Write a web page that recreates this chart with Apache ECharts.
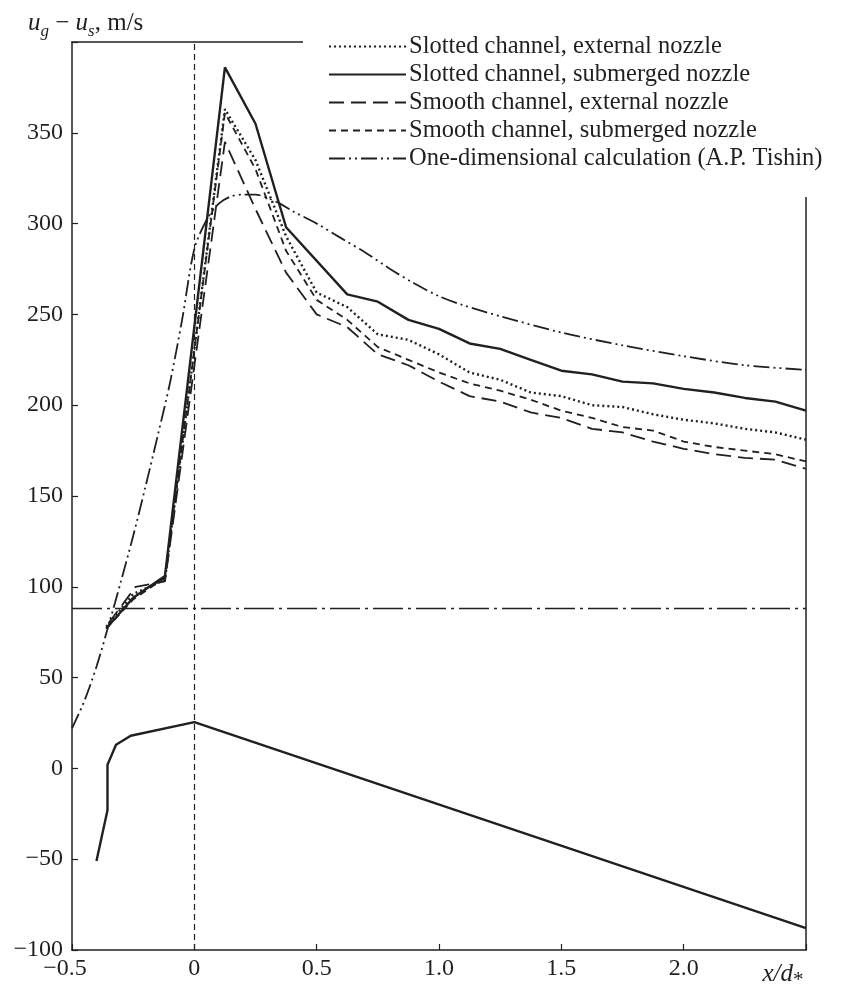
<!DOCTYPE html>
<html>
<head>
<meta charset="utf-8">
<script src="https://cdn.jsdelivr.net/npm/echarts@6/dist/echarts.min.js"></script>
<style>html,body{margin:0;padding:0;background:#fff}#c{width:861px;height:991px}</style>
</head>
<body>
<div id="c"></div>
<script>
// ---- data ----
const xTickValues = [-0.5, 0, 0.5, 1.0, 1.5, 2.0, 2.5];
const yTickValues = [-100, -50, 0, 50, 100, 150, 200, 250, 300, 350];

const seriesNames = [
  'Slotted channel, external nozzle',
  'Slotted channel, submerged nozzle',
  'Smooth channel, external nozzle',
  'Smooth channel, submerged nozzle',
  'One-dimensional calculation (A.P. Tishin)'
];

const slottedExtX = [-0.36,-0.25,-0.12,0.125,0.25,0.375,0.5,0.625,0.75,0.875,1.0,1.125,1.25,1.375,1.5,1.625,1.75,1.875,2.0,2.125,2.25,2.375,2.5];
const slottedExtY = [78,96,104,363,335,293,262,254,239,236,228,218,214,207,205,200,199,195,192,190,187,185,181];

const slottedSubX = [-0.36,-0.25,-0.12,0.125,0.25,0.375,0.625,0.75,0.875,1.0,1.125,1.25,1.375,1.5,1.625,1.75,1.875,2.0,2.125,2.25,2.375,2.5];
const slottedSubY = [77,94,106,386,355,298,261,257,247,242,234,231,225,219,217,213,212,209,207,204,202,197];

const smoothExtX = [-0.35,-0.24,-0.12,0.125,0.25,0.375,0.5,0.625,0.75,0.875,1.0,1.125,1.25,1.375,1.5,1.625,1.75,1.875,2.0,2.125,2.25,2.375,2.5];
const smoothExtY = [80,100,103,345,308,273,250,243,228,222,213,205,202,196,193,187,185,180,176,173,171,170,165];

const smoothSubX = [-0.36,-0.25,-0.12,0.125,0.25,0.375,0.5,0.625,0.75,0.875,1.0,1.125,1.25,1.375,1.5,1.625,1.75,1.875,2.0,2.125,2.25,2.375,2.5];
const smoothSubY = [77,93,105,361,330,285,258,247,232,225,218,212,208,203,197,193,188,186,180,177,175,173,169];

const oneDimX = [-0.5,-0.45,-0.4,-0.35,-0.3,-0.25,-0.2,-0.15,-0.1,-0.05,0,0.05,0.1,0.15,0.2,0.25,0.3,0.35,0.4,0.5,0.6,0.7,0.8,0.9,1.0,1.1,1.25,1.5,1.75,2.0,2.25,2.5];
const oneDimY = [22,37,56,79,103,128,155,183,212,247,286,302,311,315,316,316,314,311,307,300,292,284,275,267,260,255,249,240,233,227,222,219.5];

const lowerX = [-0.4,-0.355,-0.355,-0.32,-0.26,0,2.5];
const lowerY = [-51,-23,2,13,18,25.5,-88];

const horizontalRefY = 88;
const verticalRefX = 0;

// ---- chart ----
const pairs = (xs, ys) => xs.map((x, i) => [x, ys[i]]);
const INK = '#231f20';
const SERIF = 'Liberation Serif';
const FS = 24;
const minus = v => String(v).replace('-', '\u2212');

const chart = echarts.init(document.getElementById('c'), null, {renderer: 'canvas'});

const baseLine = (name, data, type, width, extra) => Object.assign({
  name, type: 'line', data, symbol: 'none', smooth: false, z: 3,
  lineStyle: {color: INK, width, type, cap: 'butt'},
  itemStyle: {color: INK}
}, extra || {});

chart.setOption({
  animation: false,
  backgroundColor: '#fff',
  title: {
    text: '{i|u}{sub|g}{n| \u2212 }{i|u}{sub|s}{n|, m/s}',
    left: 23, top: 2,
    textStyle: {
      fontWeight: 'normal',
      rich: {
        i: {fontFamily: SERIF, fontStyle: 'italic', fontWeight: 'normal', fontSize: 25, color: INK, lineHeight: 30},
        n: {fontFamily: SERIF, fontWeight: 'normal', fontSize: 25, color: INK, lineHeight: 30},
        sub: {fontFamily: SERIF, fontStyle: 'italic', fontWeight: 'normal', fontSize: 17, color: INK, lineHeight: 33, verticalAlign: 'bottom'}
      }
    }
  },
  legend: {
    data: seriesNames,
    orient: 'vertical',
    left: 303, top: 19,
    padding: [15, 40, 26, 25],
    backgroundColor: '#fff',
    itemWidth: 77, itemHeight: 22, itemGap: 3,
    itemStyle: {opacity: 0},
    textStyle: {fontFamily: SERIF, fontSize: FS + 0.5, lineHeight: 25, color: INK, padding: [0, 0, 0, -2]},
    z: 10
  },
  grid: {left: 72, right: 55, top: 42, bottom: 40.5, containLabel: false},
  xAxis: [{
    type: 'value', min: -0.5, max: 2.5, interval: 0.5,
    axisLine: {show: true, onZero: false, lineStyle: {color: INK, width: 1.5}},
    axisTick: {show: true, inside: true, length: 6, lineStyle: {color: INK, width: 1.2}},
    splitLine: {show: false},
    axisLabel: {
      margin: 7,
      fontFamily: SERIF, fontSize: FS, color: INK,
      formatter: v => {
        if (Math.abs(v - 2.5) < 1e-9) return '{xl|x/d}{xs|*}';
        if (v === 0) return '0';
        const s = minus(Number.isInteger(v) ? v.toFixed(1) : String(v));
        return v < 0 ? '{neg|' + s + '}' : s;
      },
      rich: {
        neg: {fontFamily: SERIF, fontSize: FS, color: INK, padding: [0, 14, 0, 0]},
        xl: {fontFamily: SERIF, fontStyle: 'italic', fontSize: FS + 1, color: INK, lineHeight: 26},
        xs: {fontFamily: SERIF, fontSize: 21, color: INK, lineHeight: 34, verticalAlign: 'bottom', padding: [0, 46, 0, 0]}
      }
    }
  }, {
    type: 'value', position: 'top', min: -0.5, max: 2.5,
    axisLine: {show: true, onZero: false, lineStyle: {color: INK, width: 1.5}},
    axisTick: {show: false}, axisLabel: {show: false}, splitLine: {show: false}
  }],
  yAxis: [{
    type: 'value', min: -100, max: 400, interval: 50,
    axisLine: {show: true, onZero: false, lineStyle: {color: INK, width: 1.5}},
    axisTick: {show: true, inside: true, length: 6, lineStyle: {color: INK, width: 1.2}},
    splitLine: {show: false},
    axisLabel: {
      margin: 9, fontFamily: SERIF, fontSize: FS, color: INK,
      formatter: v => (yTickValues.indexOf(v) >= 0 ? minus(v) : '')
    }
  }, {
    type: 'value', position: 'right', min: -100, max: 400,
    axisLine: {show: true, onZero: false, lineStyle: {color: INK, width: 1.5}},
    axisTick: {show: false}, axisLabel: {show: false}, splitLine: {show: false}
  }],
  series: [
    baseLine(seriesNames[0], pairs(slottedExtX, slottedExtY), [2, 3], 2.4),
    baseLine(seriesNames[1], pairs(slottedSubX, slottedSubY), 'solid', 2.4),
    baseLine(seriesNames[2], pairs(smoothExtX, smoothExtY), [15, 7], 1.8),
    baseLine(seriesNames[3], pairs(smoothSubX, smoothSubY), [7, 5], 1.8),
    baseLine(seriesNames[4], pairs(oneDimX, oneDimY), [16, 4, 2, 4, 2, 4], 1.8, {smooth: 0.3}),
    baseLine('lower', pairs(lowerX, lowerY), 'solid', 2.4, {
      markLine: {
        silent: true, symbol: 'none', label: {show: false}, animation: false,
        data: [
          {yAxis: horizontalRefY, lineStyle: {color: INK, width: 1.3, type: [30, 5, 3, 5]}},
          {xAxis: verticalRefX, lineStyle: {color: INK, width: 1.2, type: [6, 4]}}
        ]
      }
    })
  ]
});
</script>
</body>
</html>
